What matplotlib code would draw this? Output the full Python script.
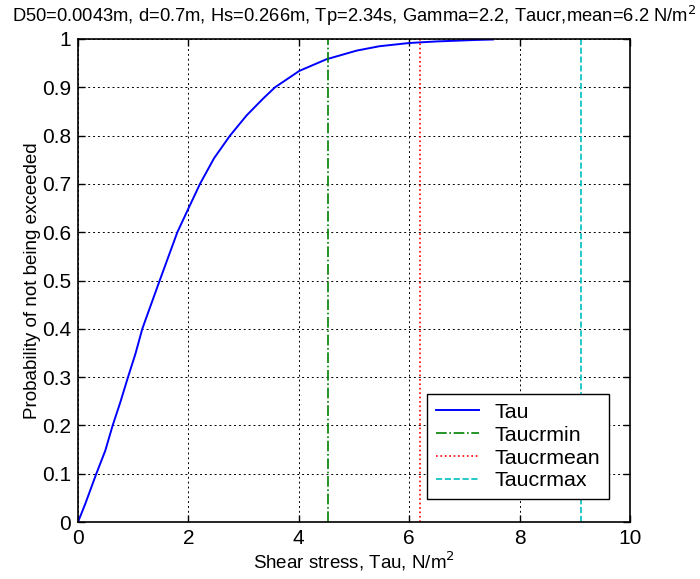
import matplotlib
matplotlib.use("Agg")
import matplotlib.pyplot as plt

plt.rcParams['font.family'] = ['Liberation Sans', 'DejaVu Sans']

tau = [0, 0.06, 0.133, 0.332, 0.495, 0.628, 0.767, 0.906, 1.04, 1.165, 1.316,
       1.48, 1.80, 2.0, 2.21, 2.464, 2.754, 3.056, 3.357, 3.569, 4.01, 4.5,
       5.05, 5.46, 6.0, 6.5, 6.86, 7.2, 7.52]
prob = [0, 0.017, 0.038, 0.1, 0.148, 0.2, 0.248, 0.3, 0.348, 0.4, 0.448,
        0.5, 0.6, 0.649, 0.7, 0.753, 0.8, 0.842, 0.877, 0.9, 0.934, 0.958,
        0.976, 0.985, 0.9917, 0.995, 0.9965, 0.998, 0.999]

taucr_min = 4.52
taucr_mean = 6.2
taucr_max = 9.12

title = "D50=0.0043m, d=0.7m, Hs=0.266m, Tp=2.34s, Gamma=2.2, Taucr,mean=6.2 N/m$^2$"

fig = plt.figure(figsize=(7.0, 5.79), dpi=100)
ax = fig.add_axes([78/700, 1-522/579, (630-78)/700, (522-39)/579])

ax.plot(tau, prob, color='#0000ff', lw=1.4, label='Tau')
ax.plot([taucr_min, taucr_min], [0, 1], color='#008000', lw=1.2, ls='-.', label='Taucrmin')
ax.plot([taucr_mean, taucr_mean], [0, 1], color='#ff0000', lw=1.2, ls=':', label='Taucrmean')
ax.plot([taucr_max, taucr_max], [0, 1], color='#00bfbf', lw=1.2, ls='--', label='Taucrmax')

ax.set_xlim(0, 10)
ax.set_ylim(0, 1)
ax.set_xticks([0, 2, 4, 6, 8, 10])
ax.set_yticks([i/10 for i in range(11)])
ax.set_yticklabels(['0', '0.1', '0.2', '0.3', '0.4', '0.5', '0.6', '0.7', '0.8', '0.9', '1'])
ax.grid(True, color='black', ls=(0, (2, 3)), lw=0.7)
ax.tick_params(direction='in', top=True, right=True, length=5, width=1, labelsize=15, pad=5)
for s in ax.spines.values():
    s.set_linewidth(1.2)

ax.set_xlabel('Shear stress, Tau, N/m$^2$', fontsize=13.5, labelpad=1)
ax.set_ylabel('Probability of not being exceeded', fontsize=13.5, labelpad=1)
ax.set_title(title, fontsize=13.2, pad=12.5)

leg = ax.legend(loc='lower right', bbox_to_anchor=(609/700, 1-499/579), bbox_transform=fig.transFigure,
                fontsize=15.4, fancybox=False, edgecolor='black', framealpha=1,
                handlelength=2.0, handletextpad=0.75, borderpad=0.4, labelspacing=0.18,
                borderaxespad=0)
leg.get_frame().set_linewidth(1.0)

fig.savefig('out.png', dpi=100)
